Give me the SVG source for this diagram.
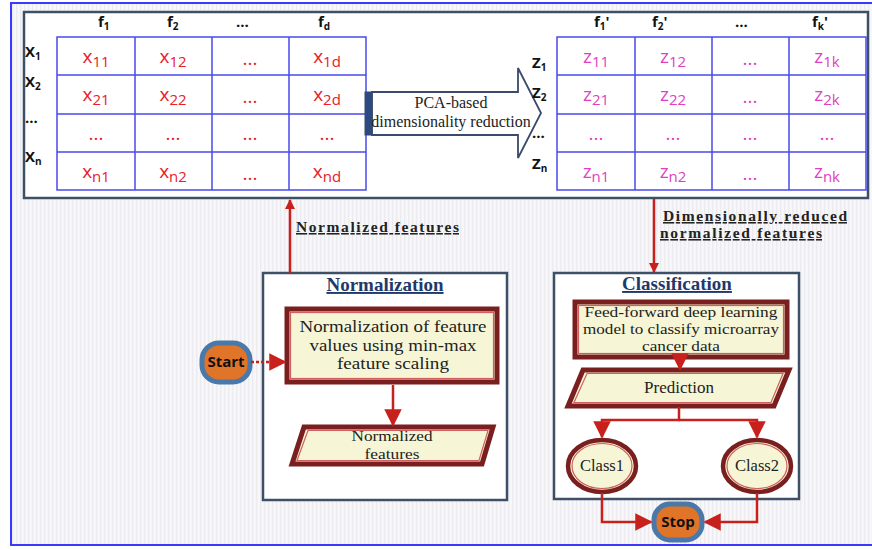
<svg xmlns="http://www.w3.org/2000/svg" width="872" height="550" viewBox="0 0 872 550">
<defs>
<pattern id="stripes" width="4" height="10" patternUnits="userSpaceOnUse">
<rect width="4" height="10" fill="#f7f7f9"/>
<rect width="1.3" height="10" fill="#ececf0"/>
</pattern>
<marker id="ah" viewBox="0 0 10 10" refX="9" refY="5" markerWidth="4" markerHeight="4" orient="auto" markerUnits="strokeWidth">
<path d="M0,0 L10,5 L0,10 z" fill="#c8201c"/>
</marker>
<marker id="ahs" viewBox="0 0 10 10" refX="9" refY="5" markerWidth="7" markerHeight="7" orient="auto" markerUnits="strokeWidth">
<path d="M0,0 L10,5 L0,10 z" fill="#c8201c"/>
</marker>
<style>
.panel{fill:#ffffff;stroke:#3d5068;stroke-width:2.5}
.grid{fill:none;stroke:#4a4af0;stroke-width:1.5}
.hdr{font-family:"Open Sans","Noto Sans",sans-serif;font-weight:bold;font-size:15px;fill:#111}
.cx{font-family:"Open Sans","Noto Sans",sans-serif;font-size:19px;fill:#e8202a;text-anchor:middle}
.cz{font-family:"Open Sans","Noto Sans",sans-serif;font-size:19px;fill:#e040c0;text-anchor:middle}
.sub{font-size:15px}
.ser{font-family:"Liberation Serif","Times New Roman",serif;fill:#222;text-anchor:middle}
.lbl{font-family:"Liberation Serif","Times New Roman",serif;font-weight:bold;font-size:15.5px;fill:#222;text-decoration:underline}
.ttl{font-family:"Liberation Serif","Times New Roman",serif;font-weight:bold;font-size:19px;fill:#1f3a6a;text-decoration:underline;text-anchor:middle}
.b3o{fill:#f6f6d6;stroke:#7a1f1f;stroke-width:5}
.b3i{fill:none;stroke:#d06060;stroke-width:1.2}
.red{fill:none;stroke:#c8201c;stroke-width:2.5}
.term{fill:#e07428;stroke:#4a78a8;stroke-width:5}
.tt{font-family:"Open Sans","Noto Sans",sans-serif;font-weight:bold;font-size:15px;fill:#111;text-anchor:middle}
</style>
</defs>

<rect x="0" y="0" width="872" height="550" fill="#ffffff"/>
<rect id="frame" x="11" y="3" width="870" height="542" fill="url(#stripes)" stroke="#3a3aff" stroke-width="2"/>

<g id="top-panel">
<rect class="panel" x="24" y="12" width="844" height="186"/>
</g>

<g id="matrix-x">
<rect class="grid" x="57" y="37" width="309" height="153"/>
<path class="grid" d="M135,37V190M212,37V190M289,37V190M57,75H366M57,114H366M57,152H366"/>
<text class="hdr" x="98" y="27">f<tspan dy="3" font-size="10">1</tspan></text>
<text class="hdr" x="167" y="27">f<tspan dy="3" font-size="10">2</tspan></text>
<text class="hdr" x="236" y="27">...</text>
<text class="hdr" x="318" y="27">f<tspan dy="3" font-size="10">d</tspan></text>
<text class="hdr" x="25" y="57">X<tspan dy="3" font-size="10">1</tspan></text>
<text class="hdr" x="25" y="87">X<tspan dy="3" font-size="10">2</tspan></text>
<text class="hdr" x="25" y="123">...</text>
<text class="hdr" x="25" y="162">X<tspan dy="3" font-size="10">n</tspan></text>
<text class="cx" x="96" y="63">x<tspan class="sub" dy="4">11</tspan></text>
<text class="cx" x="173" y="63">x<tspan class="sub" dy="4">12</tspan></text>
<text class="cx" x="250" y="65">...</text>
<text class="cx" x="327" y="63">x<tspan class="sub" dy="4">1d</tspan></text>
<text class="cx" x="96" y="101">x<tspan class="sub" dy="4">21</tspan></text>
<text class="cx" x="173" y="101">x<tspan class="sub" dy="4">22</tspan></text>
<text class="cx" x="250" y="103">...</text>
<text class="cx" x="327" y="101">x<tspan class="sub" dy="4">2d</tspan></text>
<text class="cx" x="96" y="140">...</text>
<text class="cx" x="173" y="140">...</text>
<text class="cx" x="250" y="140">...</text>
<text class="cx" x="327" y="140">...</text>
<text class="cx" x="96" y="178">x<tspan class="sub" dy="4">n1</tspan></text>
<text class="cx" x="173" y="178">x<tspan class="sub" dy="4">n2</tspan></text>
<text class="cx" x="250" y="180">...</text>
<text class="cx" x="327" y="178">x<tspan class="sub" dy="4">nd</tspan></text>
</g>

<g id="pca-arrow">
<polygon points="372,92 518,92 518,68 541,113 518,158 518,135 372,135" fill="#ffffff" stroke="#3a4a6a" stroke-width="1.8"/>
<rect x="365" y="92" width="7" height="43" fill="#2a4a80" stroke="#3a4a6a" stroke-width="1"/>
<text class="ser" x="451" y="108" font-size="16">PCA-based</text>
<text class="ser" x="451" y="127" font-size="16">dimensionality reduction</text>
</g>

<g id="matrix-z">
<rect class="grid" x="557" y="37" width="309" height="153"/>
<path class="grid" d="M635,37V190M712,37V190M789,37V190M557,75H866M557,114H866M557,152H866"/>
<text class="hdr" x="594" y="27">f<tspan dy="3" font-size="10">1</tspan><tspan dy="-3">'</tspan></text>
<text class="hdr" x="652" y="27">f<tspan dy="3" font-size="10">2</tspan><tspan dy="-3">'</tspan></text>
<text class="hdr" x="735" y="27">...</text>
<text class="hdr" x="812" y="27">f<tspan dy="3" font-size="10">k</tspan><tspan dy="-3">'</tspan></text>
<text class="hdr" x="532" y="68">Z<tspan dy="3" font-size="10">1</tspan></text>
<text class="hdr" x="532" y="98">Z<tspan dy="3" font-size="10">2</tspan></text>
<text class="hdr" x="532" y="138">...</text>
<text class="hdr" x="532" y="169">Z<tspan dy="3" font-size="10">n</tspan></text>
<text class="cz" x="596" y="63">z<tspan class="sub" dy="4">11</tspan></text>
<text class="cz" x="673" y="63">z<tspan class="sub" dy="4">12</tspan></text>
<text class="cz" x="750" y="65">...</text>
<text class="cz" x="827" y="63">z<tspan class="sub" dy="4">1k</tspan></text>
<text class="cz" x="596" y="101">z<tspan class="sub" dy="4">21</tspan></text>
<text class="cz" x="673" y="101">z<tspan class="sub" dy="4">22</tspan></text>
<text class="cz" x="750" y="103">...</text>
<text class="cz" x="827" y="101">z<tspan class="sub" dy="4">2k</tspan></text>
<text class="cz" x="596" y="140">...</text>
<text class="cz" x="673" y="140">...</text>
<text class="cz" x="750" y="140">...</text>
<text class="cz" x="827" y="140">...</text>
<text class="cz" x="596" y="178">z<tspan class="sub" dy="4">n1</tspan></text>
<text class="cz" x="673" y="178">z<tspan class="sub" dy="4">n2</tspan></text>
<text class="cz" x="750" y="180">...</text>
<text class="cz" x="827" y="178">z<tspan class="sub" dy="4">nk</tspan></text>
</g>

<g id="normalization">
<rect class="panel" x="263" y="273" width="244" height="227"/>
<text class="ttl" x="385" y="291">Normalization</text>
</g>

<g id="norm-process">
<rect class="b3o" x="287" y="309" width="210" height="73"/>
<rect class="b3i" x="290.5" y="312.5" width="203" height="66"/>
<text class="ser" x="393" y="332" font-size="16" textLength="187" lengthAdjust="spacingAndGlyphs">Normalization of feature</text>
<text class="ser" x="393" y="350.5" font-size="16" textLength="167" lengthAdjust="spacingAndGlyphs">values using min-max</text>
<text class="ser" x="393" y="369" font-size="16" textLength="112" lengthAdjust="spacingAndGlyphs">feature scaling</text>
</g>

<g id="norm-output">
<polygon class="b3o" points="304,427 493,427 482,464 292,464"/>
<polygon class="b3i" points="308,430.5 488,430.5 479,460.5 297,460.5"/>
<text class="ser" x="392" y="441" font-size="15.5" textLength="81" lengthAdjust="spacingAndGlyphs">Normalized</text>
<text class="ser" x="392" y="459" font-size="15.5" textLength="55" lengthAdjust="spacingAndGlyphs">features</text>
</g>

<g id="start">
<rect class="term" x="202" y="343" width="48" height="39" rx="17"/>
<text class="tt" x="226" y="367">Start</text>
</g>

<g id="classification">
<rect class="panel" x="554" y="273" width="245" height="226"/>
<text class="ttl" x="677" y="290">Classification</text>
</g>

<g id="dl-model">
<rect class="b3o" x="575" y="302" width="212" height="55"/>
<rect class="b3i" x="578.5" y="305.5" width="205" height="48"/>
<text class="ser" x="681" y="317" font-size="15.5" textLength="193" lengthAdjust="spacingAndGlyphs">Feed-forward deep learning</text>
<text class="ser" x="681" y="334" font-size="15.5" textLength="196" lengthAdjust="spacingAndGlyphs">model to classify microarray</text>
<text class="ser" x="681" y="351" font-size="15.5" textLength="78" lengthAdjust="spacingAndGlyphs">cancer data</text>
</g>

<g id="prediction">
<polygon class="b3o" points="583,370 789,370 774,406 568,406"/>
<polygon class="b3i" points="587,373.5 783,373.5 771,402.5 574,402.5"/>
<text class="ser" x="679" y="393" font-size="17">Prediction</text>
</g>

<g id="class1">
<ellipse cx="602" cy="466" rx="34" ry="26" fill="#f6f6d6" stroke="#7a1f1f" stroke-width="4.5"/>
<ellipse cx="602" cy="466" rx="30" ry="22.5" fill="none" stroke="#d06060" stroke-width="1.2"/>
<text class="ser" x="602" y="471" font-size="16.5">Class1</text>
</g>

<g id="class2">
<ellipse cx="757" cy="466" rx="34" ry="26" fill="#f6f6d6" stroke="#7a1f1f" stroke-width="4.5"/>
<ellipse cx="757" cy="466" rx="30" ry="22.5" fill="none" stroke="#d06060" stroke-width="1.2"/>
<text class="ser" x="757" y="471" font-size="16.5">Class2</text>
</g>

<g id="stop">
<rect class="term" x="654" y="504" width="48" height="36" rx="16"/>
<text class="tt" x="678" y="527">Stop</text>
</g>

<g id="connectors">
<line class="red" x1="290" y1="273" x2="290" y2="200" stroke-width="3" marker-end="url(#ah)"/>
<text class="lbl" x="296" y="232" textLength="163" lengthAdjust="spacing">Normalized features</text>
<line class="red" x1="654" y1="199" x2="654" y2="272" stroke-width="3" marker-end="url(#ah)"/>
<text class="lbl" x="663" y="221" textLength="184" lengthAdjust="spacing">Dimensionally reduced</text>
<text class="lbl" x="660" y="238" textLength="162" lengthAdjust="spacing">normalized features</text>
<line class="red" x1="251" y1="362" x2="285" y2="362" stroke-width="2" stroke-dasharray="3,2" marker-end="url(#ahs)"/>
<line class="red" x1="393" y1="385" x2="393" y2="425" stroke-width="2" marker-end="url(#ahs)"/>
<line class="red" x1="680" y1="358" x2="680" y2="369" stroke-width="2" marker-end="url(#ahs)"/>
<path class="red" d="M679,407V420H602V437" stroke-width="2" marker-end="url(#ahs)"/>
<path class="red" d="M679,420H757V437" stroke-width="2" marker-end="url(#ahs)"/>
<path class="red" d="M602,493V522H651" stroke-width="2" marker-end="url(#ahs)"/>
<path class="red" d="M757,493V522H705" stroke-width="2" marker-end="url(#ahs)"/>
</g>
</svg>
